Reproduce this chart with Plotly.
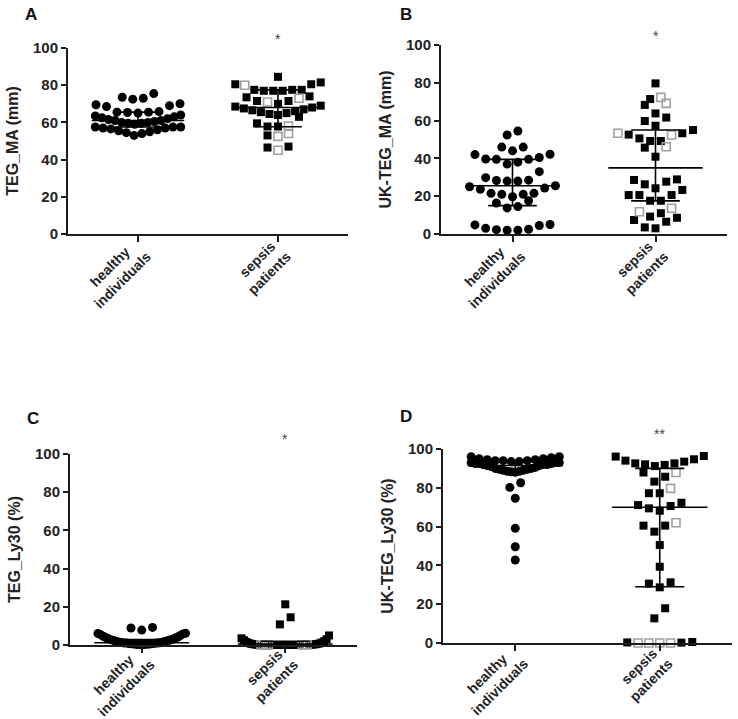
import plotly.graph_objects as go

W, H = 738, 719

NB = "\u00a0"
CATEGORIES = ["healthy" + NB * 3 + "<br>individuals", "sepsis" + NB + "<br>patients"]
Y_TITLES = ["TEG_MA (mm)", "UK-TEG_MA (mm)", "TEG_Ly30 (%)", "UK-TEG_Ly30 (%)"]
PANEL_LETTERS = ["A", "B", "C", "D"]
SIGNIF = ["*", "*", "*", "**"]
Y_TICKS = [0, 20, 40, 60, 80, 100]

# ---------------- Panel A: TEG_MA ----------------
A_HEALTHY = [53.0, 54.0, 54.5, 55.0, 55.5, 56.0, 56.5, 57.0, 57.0, 57.5, 57.5, 57.5,
             59.0, 59.5, 59.5, 60.0, 60.0, 60.5, 61.0, 61.0, 61.5, 62.0, 62.5, 63.0, 63.5, 64.0,
             65.0, 65.3, 65.5, 65.5, 65.8, 68.5, 69.0, 69.5, 70.0,
             72.5, 73.0, 73.5, 75.5]
A_SEPSIS_FILLED = [84.5, 81.5, 80.5, 80.5, 77.5, 77.0, 77.0, 77.0, 77.5, 77.5, 74.0, 73.5,
                   71.5, 71.5, 64.0, 64.5, 65.0, 65.5, 66.0, 66.5, 67.0, 67.5, 68.0, 68.5,
                   69.0, 70.0, 63.0, 59.5, 57.8, 57.8, 53.0, 47.0, 46.5]
A_SEPSIS_OPEN = [80.0, 73.0, 71.0, 58.0, 52.5, 54.0, 45.0]
A_MEDIAN = [61.0, 68.0]
A_Q1 = [57.5, 57.7]
A_Q3 = [65.5, 77.5]

# ---------------- Panel B: UK-TEG_MA ----------------
B_HEALTHY = [2.0, 2.0, 2.3, 2.5, 3.0, 4.5, 4.8, 5.0,
             13.8, 14.5, 16.4, 17.6,
             19.7, 21.0, 21.0, 21.5, 21.5, 23.7, 24.3, 25.0, 25.5,
             28.0, 28.0, 28.3, 28.5, 29.8, 33.0,
             37.0, 38.0, 39.5, 39.5, 39.7, 40.5, 42.0, 42.2,
             44.0, 46.0, 46.0,
             52.4, 54.5]
B_SEPSIS_FILLED = [79.7, 71.4, 68.3, 63.8, 61.6, 59.8, 57.3, 55.0, 52.6, 53.3, 49.2, 49.2,
                   50.6, 45.7, 40.9, 28.6, 26.3, 27.7, 28.9, 24.2, 23.3, 20.6, 20.6, 20.6,
                   17.6, 17.6, 8.6, 11.0, 9.2, 7.4, 6.5, 3.0, 3.5]
B_SEPSIS_OPEN = [72.3, 69.1, 53.3, 52.4, 46.2, 13.6, 11.8]
B_MEDIAN = [25.5, 35.0]
B_Q1 = [15.0, 17.5]
B_Q3 = [39.5, 55.0]

# ---------------- Panel C: TEG_Ly30 ----------------
C_HEALTHY = [0.1, 0.2, 0.3, 0.3, 0.4, 0.5, 0.5, 0.6, 0.7, 0.8, 0.9, 1.0, 1.0, 1.1, 1.2,
             1.3, 1.5, 1.6, 1.8, 2.0, 2.2, 2.4, 2.6, 2.8, 3.0, 3.3, 3.6, 3.9, 4.2, 4.6,
             5.0, 5.4, 5.8, 6.0, 6.1, 7.8, 8.9, 9.2]
C_SEPSIS_FILLED = [21.3, 14.5, 10.8, 5.0, 3.5, 3.0, 2.5, 2.0, 1.6, 1.3, 1.0, 0.8, 0.6, 0.5,
                   0.4, 0.3, 0.2, 0.2, 0.1, 0.1, 0, 0, 0, 0, 0, 0, 0, 0, 0, 0, 0, 0, 0]
C_SEPSIS_OPEN = [0, 0, 0, 0, 0, 0, 0]
C_MEDIAN = [1.2, 0.5]
C_Q1 = [0.5, 0.0]
C_Q3 = [2.8, 2.0]

# ---------------- Panel D: UK-TEG_Ly30 ----------------
D_HEALTHY = [42.8, 49.6, 59.1, 74.6, 80.2, 82.6,
             88.0, 88.3, 88.5, 88.5, 89.0, 89.0, 89.5, 89.5, 90.0, 90.0, 90.5, 91.0,
             91.5, 91.5, 92.0, 92.0, 92.0, 92.5, 92.5, 92.5, 93.0, 93.0, 93.0, 93.5, 93.5,
             94.0, 94.0, 94.0, 94.5, 94.5, 95.0, 95.0, 95.5, 96.0, 96.0]
D_SEPSIS_FILLED = [96.4, 94.7, 93.5, 92.6, 91.8, 91.2, 92.1, 92.6, 94.0, 96.1, 87.9, 85.7,
                   83.2, 77.2, 77.2, 72.3, 70.6, 68.2, 69.4, 71.1, 60.5, 60.5, 57.4, 50.5,
                   39.3, 31.3, 30.6, 28.7, 17.9, 12.7, 0.5, 0.3, 0.2]
D_SEPSIS_OPEN = [87.9, 79.7, 62.0, 0, 0, 0, 0]
D_MEDIAN = [91.5, 70.0]
D_Q1 = [89.5, 29.0]
D_Q3 = [93.5, 90.0]

# ---------------- layout parameters (pixels in the 738x719 page) ----------------
PANEL_BOX = [  # left, right, top, bottom of the plotting area
    (68, 348, 48, 234),
    (441, 727, 45, 234),
    (70, 357, 454, 645),
    (443, 732, 449, 643),
]
ROW_W = [5.2, 5.8, 6.5, 5.3]        # row height of the dot swarm in data units
LETTER_POS = [(31, 15), (406, 15), (33, 418), (406, 416)]
STAR_Y = [39, 36, 439, 434]
CAT_STANDOFF = [-12, -12, -15, -14]

FONT = "Liberation Sans, Arial, Helvetica, sans-serif"
AX_COLOR = "#1c1c1c"
OPEN_COLOR = "#a0a0a0"


def swarm(values, center, w, s0=0.075, maxw=0.61):
    """Bin sorted values into rows, spread each row centre-outward (lowest in the middle)."""
    order = sorted(range(len(values)), key=lambda i: values[i])
    rows, cur, start = [], [], None
    for i in order:
        v = values[i]
        if cur and v > start + w:
            rows.append(cur)
            cur = []
        if not cur:
            start = v
        cur.append(i)
    if cur:
        rows.append(cur)
    xs = [0.0] * len(values)
    for row in rows:
        n = len(row)
        sp = s0 if n == 1 else min(s0, maxw / (n - 1))
        slots = sorted([k - (n - 1) / 2 for k in range(n)], key=lambda s: (abs(s), s))
        for idx, s in zip(row, slots):
            xs[idx] = center + s * sp
    return xs


panels = [
    (A_HEALTHY, A_SEPSIS_FILLED, A_SEPSIS_OPEN, A_MEDIAN, A_Q1, A_Q3),
    (B_HEALTHY, B_SEPSIS_FILLED, B_SEPSIS_OPEN, B_MEDIAN, B_Q1, B_Q3),
    (C_HEALTHY, C_SEPSIS_FILLED, C_SEPSIS_OPEN, C_MEDIAN, C_Q1, C_Q3),
    (D_HEALTHY, D_SEPSIS_FILLED, D_SEPSIS_OPEN, D_MEDIAN, D_Q1, D_Q3),
]

fig = go.Figure()
annotations = []
layout_axes = {}

for p, (healthy, s_filled, s_open, med, q1, q3) in enumerate(panels):
    sfx = "" if p == 0 else str(p + 1)
    xa, ya = "x" + sfx, "y" + sfx
    left, right, top, bottom = PANEL_BOX[p]
    w = ROW_W[p]

    hx = swarm(healthy, 0, w)
    fig.add_trace(go.Scatter(x=hx, y=healthy, mode="markers", xaxis=xa, yaxis=ya,
                             marker=dict(symbol="circle", size=9, color="black",
                                         line=dict(width=0)),
                             cliponaxis=False, showlegend=False, hoverinfo="y"))
    allv = list(s_filled) + list(s_open)
    sx = swarm(allv, 1, w)
    nf = len(s_filled)
    fig.add_trace(go.Scatter(x=sx[:nf], y=s_filled, mode="markers", xaxis=xa, yaxis=ya,
                             marker=dict(symbol="square", size=8, color="black",
                                         line=dict(width=0)),
                             cliponaxis=False, showlegend=False, hoverinfo="y"))
    fig.add_trace(go.Scatter(x=sx[nf:], y=s_open, mode="markers", xaxis=xa, yaxis=ya,
                             marker=dict(symbol="square-open", size=8, color=OPEN_COLOR,
                                         line=dict(width=1.6, color=OPEN_COLOR)),
                             cliponaxis=False, showlegend=False, hoverinfo="y"))

    for g in range(2):
        lx, ly = [], []
        lx += [g - 0.33, g + 0.33, None]
        ly += [med[g], med[g], None]
        lx += [g - 0.17, g + 0.17, None, g - 0.17, g + 0.17, None, g, g]
        ly += [q1[g], q1[g], None, q3[g], q3[g], None, q1[g], q3[g]]
        fig.add_trace(go.Scatter(x=lx, y=ly, mode="lines", xaxis=xa, yaxis=ya,
                                 line=dict(color="black", width=1.6),
                                 cliponaxis=False, showlegend=False, hoverinfo="skip"))

    layout_axes["xaxis" + sfx] = dict(
        domain=[left / W, right / W], range=[-0.5, 1.5], anchor=ya,
        showline=True, linecolor=AX_COLOR, linewidth=2,
        ticks="outside", tickvals=[0, 1], ticktext=CATEGORIES, tickangle=-45,
        ticklen=6, tickwidth=2, tickcolor=AX_COLOR,
        ticklabelstandoff=CAT_STANDOFF[p], ticklabelshift=-4,
        tickfont=dict(family=FONT, size=14, color="#222", weight="bold"),
        showgrid=False, zeroline=False, fixedrange=True, automargin=False)
    layout_axes["yaxis" + sfx] = dict(
        domain=[1 - bottom / H, 1 - top / H], range=[0, 100], anchor=xa,
        showline=True, linecolor=AX_COLOR, linewidth=2,
        ticks="outside", tickvals=Y_TICKS, ticklen=5, tickwidth=2, tickcolor=AX_COLOR,
        tickfont=dict(family=FONT, size=15, color="#222", weight="bold"),
        title=dict(text=Y_TITLES[p], standoff=10,
                   font=dict(family=FONT, size=16, color="#222", weight="bold")),
        showgrid=False, zeroline=False, fixedrange=True, automargin=False)

    annotations.append(dict(
        x=1, y=1 - STAR_Y[p] / H, xref=xa, yref="paper", text=SIGNIF[p], showarrow=False,
        xanchor="center", yanchor="middle",
        font=dict(family=FONT, size=14, color="#444")))
    lx_, ly_ = LETTER_POS[p]
    annotations.append(dict(
        x=lx_ / W, y=1 - ly_ / H, xref="paper", yref="paper", text=PANEL_LETTERS[p],
        showarrow=False, xanchor="center", yanchor="middle",
        font=dict(family=FONT, size=17, color="#111", weight="bold")))

fig.update_layout(
    width=W, height=H, margin=dict(l=0, r=0, t=0, b=0, autoexpand=False),
    paper_bgcolor="white", plot_bgcolor="white",
    showlegend=False, annotations=annotations, **layout_axes)

fig.write_html("out.html", config={"displayModeBar": False},
               post_script="document.body.style.margin='0';")
